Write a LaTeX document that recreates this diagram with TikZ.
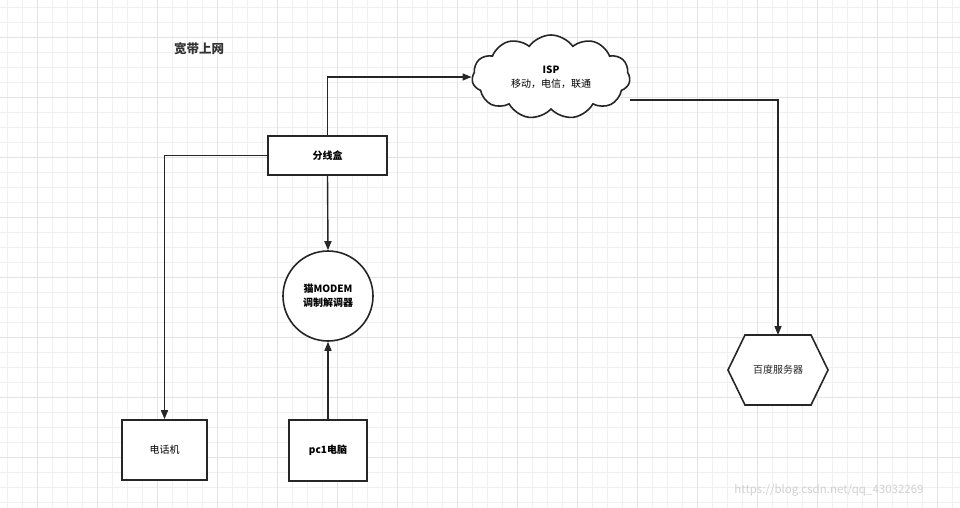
\documentclass[tikz,border=0pt]{standalone}
\usepackage{fontspec}
\setmainfont{Noto Sans CJK SC}
\usetikzlibrary{shapes.geometric,shapes.symbols,arrows.meta}
\begin{document}
\begin{tikzpicture}[x=1pt,y=-1pt,
  box/.style={draw=black!85,line width=1.6pt,fill=white,align=center,font=\fontsize{10}{12}\selectfont,inner sep=0pt},
  conn/.style={draw=black!85,line width=1.4pt,-{Triangle[length=9pt,width=7pt]}},
  line/.style={draw=black!85,line width=1.4pt}]
\fill[white] (0,0) rectangle (960,508);
\useasboundingbox (0,0) rectangle (960,508);
\foreach \i in {7,22,...,960} \draw[black!6,line width=0.6pt] (\i,0) -- (\i,508);
\foreach \i in {7,22,...,508} \draw[black!6,line width=0.6pt] (0,\i) -- (960,\i);
\foreach \i in {37,97,...,960} \draw[black!11,line width=0.7pt] (\i,0) -- (\i,508);
\foreach \i in {37,97,...,508} \draw[black!11,line width=0.7pt] (0,\i) -- (960,\i);

\node[font=\bfseries\fontsize{12.5}{14}\selectfont,text=black!80] (title) at (199,49) {宽带上网};
\node[box,font=\bfseries\fontsize{10}{12}\selectfont,minimum width=119pt,minimum height=39pt] (fx) at (327.5,155.5) {分线盒};
\node[box,cloud,cloud puffs=11,cloud puff arc=110,aspect=1.9,minimum width=158pt,minimum height=84pt,font=\fontsize{10}{14}\selectfont] (isp) at (551,77) {\textbf{ISP}\\移动，电信，联通};
\node[box,regular polygon,regular polygon sides=6,shape border rotate=90,minimum size=0pt,draw=none,fill=none] (dummy) at (0,0) {};
\path[box] (728,370) -- (745,335) -- (811,335) -- (828,370) -- (811,405) -- (745,405) -- cycle;
\node[font=\fontsize{10}{12}\selectfont,text=black!85] (bd) at (778,370) {百度服务器};
\coordinate (bdtop) at (778,335);
\node[box,circle,minimum size=90pt,font=\bfseries\fontsize{10}{14}\selectfont] (modem) at (328,296) {猫MODEM\\调制解调器};
\node[box,minimum width=85pt,minimum height=60pt] (phone) at (164.5,450) {电话机};
\node[box,font=\bfseries\fontsize{10}{12}\selectfont,minimum width=78pt,minimum height=61pt] (pc) at (328,450.5) {pc1电脑};

\draw[conn] (fx.north) |- (isp.west);
\draw[conn] (isp.east |- 0,100) -| (bdtop);
\draw[conn] (fx.west) -| (phone.north);
\draw[conn] (fx.south) -- (modem.north);
\draw[conn] (pc.north) -- (modem.south);
\node[font=\fontsize{11.5}{13}\selectfont,text=black!18,fill=none] (wm) at (829,490) {https://blog.csdn.net/qq\_43032269};
\end{tikzpicture}
\end{document}
